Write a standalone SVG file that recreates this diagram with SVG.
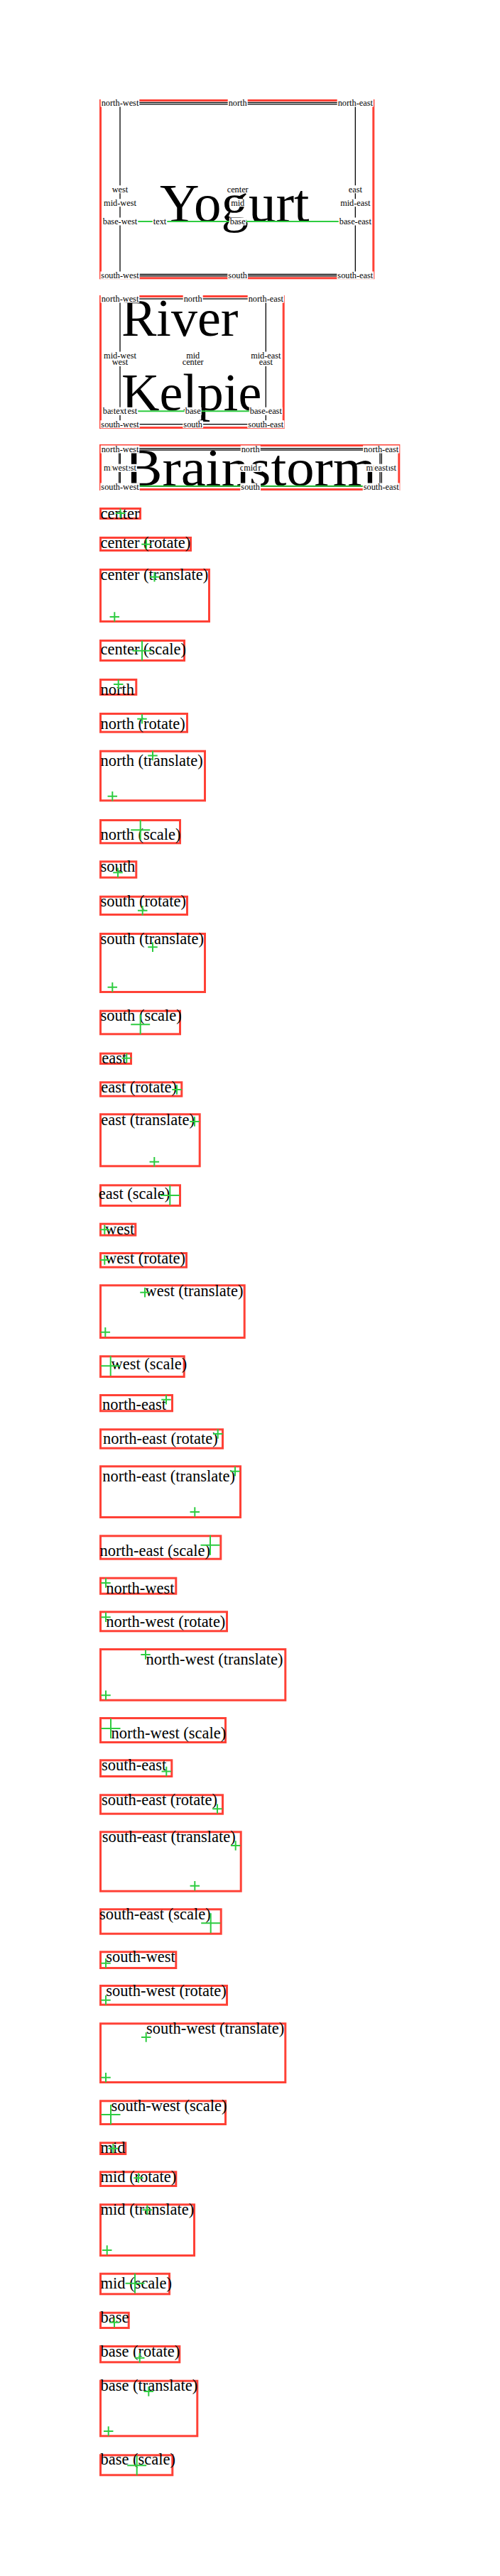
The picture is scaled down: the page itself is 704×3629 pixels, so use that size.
<svg xmlns="http://www.w3.org/2000/svg" xmlns:xlink="http://www.w3.org/1999/xlink" width="704" height="3629" viewBox="0 0 704 3629">
<style>
.bx{fill:none;stroke:#ff4136;stroke-width:3}
.fr{fill:none;stroke:#000;stroke-width:1.3}
.bl{stroke:#2ecc40;stroke-width:2;fill:none}
.t{font-family:"Liberation Serif",serif;font-size:22.5px;fill:#000}
.big{font-family:"Liberation Serif",serif;fill:#000}
.lb rect{fill:#fff}
.lb text{font-family:"Liberation Serif",serif;font-size:12.3px;fill:#000;text-anchor:middle}
.e{text-anchor:end}
</style>
<defs>
<path id="c" d="M-6.75 0h13.5M0-6.75v13.5" stroke="#2ecc40" stroke-width="2" fill="none"/>
<path id="C" d="M-13.5 0h27M0-14v28" stroke="#2ecc40" stroke-width="2" fill="none"/>
</defs>
<rect width="704" height="3629" fill="#fff"/>

<g id="yogurt">
<rect class="bx" x="141.5" y="141.5" width="384.3" height="250.3"/>
<rect class="fr" x="169" y="144.5" width="331.3" height="244.3"/>
<path class="fr" d="M169 146.8H500.3M169 386.5H500.3"/>
<text class="big" x="225" y="312" font-size="77">Yogurt</text>
<path class="bl" d="M169 312H500.3"/>
<g class="lb">
<rect x="141.7" y="139.5" width="54.6" height="11"/><text x="169" y="149">north-west</text>
<rect x="320.7" y="139.5" width="28" height="11"/><text x="334.7" y="149">north</text>
<rect x="474.7" y="139.5" width="51.2" height="11"/><text x="500.3" y="149">north-east</text>
<rect x="156.75" y="261.2" width="24.5" height="11"/><text x="169" y="270.7">west</text>
<rect x="318.7" y="261.2" width="32" height="11"/><text x="334.7" y="270.7">center</text>
<rect x="489.75" y="261.2" width="21.1" height="11"/><text x="500.3" y="270.7">east</text>
<rect x="145.1" y="280.2" width="47.8" height="11"/><text x="169" y="289.7">mid-west</text>
<rect x="324.15" y="280.2" width="21.1" height="11"/><text x="334.7" y="289.7">mid</text>
<rect x="478.1" y="280.2" width="44.4" height="11"/><text x="500.3" y="289.7">mid-east</text>
<rect x="143.75" y="306.5" width="50.5" height="11"/><text x="169" y="316">base-west</text>
<rect x="214.75" y="306.5" width="20.5" height="11"/><text x="225" y="316">text</text>
<rect x="322.75" y="306.5" width="23.9" height="11"/><text x="334.7" y="316">base</text>
<rect x="476.75" y="306.5" width="47.1" height="11"/><text x="500.3" y="316">base-east</text>
<rect x="141.35" y="382.5" width="55.3" height="11"/><text x="169" y="392">south-west</text>
<rect x="320.35" y="382.5" width="28.7" height="11"/><text x="334.7" y="392">south</text>
<rect x="474.35" y="382.5" width="51.9" height="11"/><text x="500.3" y="392">south-east</text>
</g>
</g>

<g id="river-kelpie">
<rect class="bx" x="141.5" y="417.5" width="257.7" height="185"/>
<rect class="fr" x="169" y="421" width="205.3" height="176.7" stroke-width="2"/>
<text class="big" x="171" y="473" font-size="74">River</text>
<text class="big" x="171" y="578" font-size="74">Kelpie</text>
<path class="bl" d="M169 579.3H374.3"/>
<g class="lb">
<rect x="141.7" y="415.5" width="54.6" height="11"/><text x="169" y="425">north-west</text>
<rect x="257.7" y="415.5" width="28" height="11"/><text x="271.7" y="425">north</text>
<rect x="348.7" y="415.5" width="51.2" height="11"/><text x="374.3" y="425">north-east</text>
<rect x="145.1" y="495.5" width="47.8" height="11"/><text x="169" y="505">mid-west</text>
<rect x="261.15" y="495.5" width="21.1" height="11"/><text x="271.7" y="505">mid</text>
<rect x="352.1" y="495.5" width="44.4" height="11"/><text x="374.3" y="505">mid-east</text>
<rect x="156.75" y="505.5" width="24.5" height="10.5"/><text x="169" y="514.3">west</text>
<rect x="255.7" y="505.5" width="32" height="10.5"/><text x="271.7" y="514.3">center</text>
<rect x="363.75" y="505.5" width="21.1" height="10.5"/><text x="374.3" y="514.3">east</text>
<rect x="143.75" y="573.8" width="50.5" height="11"/><text x="169" y="583.3">base-west</text>
<rect x="158.75" y="573.8" width="20.5" height="11"/><text x="169" y="583.3">text</text>
<rect x="259.75" y="573.8" width="23.9" height="11"/><text x="271.7" y="583.3">base</text>
<rect x="350.75" y="573.8" width="47.1" height="11"/><text x="374.3" y="583.3">base-east</text>
<rect x="141.35" y="592.2" width="55.3" height="11"/><text x="169" y="601.7">south-west</text>
<rect x="257.35" y="592.2" width="28.7" height="11"/><text x="271.7" y="601.7">south</text>
<rect x="348.35" y="592.2" width="51.9" height="11"/><text x="374.3" y="601.7">south-east</text>
</g>
</g>

<g id="brainstorm">
<rect class="bx" x="141.5" y="627.5" width="420.3" height="62"/>
<rect class="fr" x="167.7" y="631.7" width="369.6" height="53.3"/>
<rect class="fr" x="169.3" y="634" width="365.7" height="51"/>
<text class="big" x="176" y="684" font-size="74" textLength="354" lengthAdjust="spacingAndGlyphs">Brainstorm</text>
<path class="bl" d="M169 684.7H536.7"/>
<g class="lb">
<rect x="141.7" y="627.5" width="54.6" height="11"/><text x="169" y="637">north-west</text>
<rect x="338.7" y="627.5" width="28" height="11"/><text x="352.7" y="637">north</text>
<rect x="511.1" y="627.5" width="51.2" height="11"/><text x="536.7" y="637">north-east</text>
<rect x="145.1" y="653.8" width="47.8" height="11"/><text x="169" y="663.3">mid-west</text>
<rect x="336.7" y="653.8" width="32" height="11"/><text x="352.7" y="663.3">center</text>
<rect x="514.5" y="653.8" width="44.4" height="11"/><text x="536.7" y="663.3">mid-east</text>
<rect x="156.75" y="653.8" width="24.5" height="11"/><text x="169" y="663.3">west</text>
<rect x="342.15" y="653.8" width="21.1" height="11"/><text x="352.7" y="663.3">mid</text>
<rect x="526.15" y="653.8" width="21.1" height="11"/><text x="536.7" y="663.3">east</text>
<rect x="141.35" y="680.5" width="55.3" height="11"/><text x="169" y="690">south-west</text>
<rect x="338.35" y="680.5" width="28.7" height="11"/><text x="352.7" y="690">south</text>
<rect x="510.75" y="680.5" width="51.9" height="11"/><text x="536.7" y="690">south-east</text>
</g>
</g>

<g id="item-center"><rect class="bx" x="141.5" y="716.5" width="56" height="14"/><text class="t" x="141.5" y="730.5">center</text><use href="#c" x="169.5" y="723"/></g>
<g id="item-center-rotate"><rect class="bx" x="141.5" y="757.5" width="127" height="18"/><text class="t" x="141.5" y="771.7">center (rotate)</text><use href="#c" x="206" y="766.7"/></g>
<g id="item-center-translate"><rect class="bx" x="141.5" y="802.5" width="153" height="73"/><text class="t" x="141.5" y="816.5">center (translate)</text><use href="#c" x="217.5" y="812.7"/><use href="#c" x="161.3" y="869"/></g>
<g id="item-center-scale"><rect class="bx" x="141.5" y="902.5" width="118" height="28"/><text class="t" x="141.5" y="921.7">center (scale)</text><use href="#C" x="200" y="916.7"/></g>

<g id="item-north"><rect class="bx" x="141.5" y="957.5" width="50.3" height="21"/><text class="t" x="141.5" y="978.5">north</text><use href="#c" x="166.7" y="964"/></g>
<g id="item-north-rotate"><rect class="bx" x="141.5" y="1005.5" width="122" height="25.7"/><text class="t" x="141.5" y="1026.7">north (rotate)</text><use href="#c" x="200" y="1012.7"/></g>
<g id="item-north-translate"><rect class="bx" x="141.5" y="1058.2" width="147" height="69.6"/><text class="t" x="141.5" y="1078.5">north (translate)</text><use href="#c" x="215" y="1064.5"/><use href="#c" x="158.3" y="1121.7"/></g>
<g id="item-north-scale"><rect class="bx" x="141.5" y="1155.5" width="112" height="32.3"/><text class="t" x="141.5" y="1183.3">north (scale)</text><use href="#C" x="197.7" y="1169.3"/></g>

<g id="item-south"><rect class="bx" x="141.5" y="1213.8" width="50.3" height="22.4"/><text class="t" x="141.5" y="1228">south</text><use href="#c" x="166" y="1229.3"/></g>
<g id="item-south-rotate"><rect class="bx" x="141.5" y="1263.2" width="122" height="25.3"/><text class="t" x="141.5" y="1277.3">south (rotate)</text><use href="#c" x="200.7" y="1282.7"/></g>
<g id="item-south-translate"><rect class="bx" x="141.5" y="1315.5" width="147" height="82"/><text class="t" x="141.5" y="1330">south (translate)</text><use href="#c" x="215" y="1334.3"/><use href="#c" x="158.3" y="1390.7"/></g>
<g id="item-south-scale"><rect class="bx" x="141.5" y="1424.2" width="112" height="32.6"/><text class="t" x="141.5" y="1438.3">south (scale)</text><use href="#C" x="197.7" y="1443.3"/></g>

<g id="item-east"><rect class="bx" x="141.5" y="1484.2" width="43" height="14.3"/><text class="t e" x="178.3" y="1498.3">east</text><use href="#c" x="178.3" y="1490.7"/></g>
<g id="item-east-rotate"><rect class="bx" x="141.5" y="1524.8" width="114.3" height="19.4"/><text class="t e" x="249" y="1539">east (rotate)</text><use href="#c" x="249" y="1535"/></g>
<g id="item-east-translate"><rect class="bx" x="141.5" y="1569.8" width="139.7" height="73"/><text class="t e" x="274" y="1584.5">east (translate)</text><use href="#c" x="274" y="1580"/><use href="#c" x="217.3" y="1636.7"/></g>
<g id="item-east-scale"><rect class="bx" x="141.5" y="1669.8" width="112" height="28.7"/><text class="t e" x="239.3" y="1689.3">east (scale)</text><use href="#C" x="239.3" y="1684"/></g>

<g id="item-west"><rect class="bx" x="141.5" y="1724.2" width="49.3" height="16"/><text class="t" x="148" y="1739">west</text><use href="#c" x="147.3" y="1732.3"/></g>
<g id="item-west-rotate"><rect class="bx" x="141.5" y="1765.5" width="121" height="19.7"/><text class="t" x="148" y="1779.7">west (rotate)</text><use href="#c" x="147.3" y="1775"/></g>
<g id="item-west-translate"><rect class="bx" x="141.5" y="1810.8" width="202.7" height="73.7"/><text class="t" x="204.5" y="1826">west (translate)</text><use href="#c" x="204" y="1820.7"/><use href="#c" x="148.3" y="1876.7"/></g>
<g id="item-west-scale"><rect class="bx" x="141.5" y="1910.8" width="117.7" height="28.7"/><text class="t" x="156.5" y="1929.3">west (scale)</text><use href="#C" x="155.7" y="1924.3"/></g>

<g id="item-north-east"><rect class="bx" x="141.5" y="1965.5" width="101" height="22.3"/><text class="t e" x="234" y="1986">north-east</text><use href="#c" x="234" y="1971.7"/></g>
<g id="item-north-east-rotate"><rect class="bx" x="141.5" y="2013.8" width="172" height="26.4"/><text class="t e" x="306.7" y="2034.3">north-east (rotate)</text><use href="#c" x="306.7" y="2020"/></g>
<g id="item-north-east-translate"><rect class="bx" x="141.5" y="2065.8" width="197" height="71.7"/><text class="t e" x="331" y="2086.7">north-east (translate)</text><use href="#c" x="331" y="2072.7"/><use href="#c" x="274.3" y="2130"/></g>
<g id="item-north-east-scale"><rect class="bx" x="141.5" y="2163.8" width="169.3" height="32.4"/><text class="t e" x="296" y="2191.7">north-east (scale)</text><use href="#C" x="296" y="2176.7"/></g>

<g id="item-north-west"><rect class="bx" x="141.5" y="2223.2" width="106.3" height="22"/><text class="t" x="149.3" y="2244.5">north-west</text><use href="#c" x="149" y="2230"/></g>
<g id="item-north-west-rotate"><rect class="bx" x="141.5" y="2270.8" width="178" height="27"/><text class="t" x="149.3" y="2292">north-west (rotate)</text><use href="#c" x="149" y="2278.3"/></g>
<g id="item-north-west-translate"><rect class="bx" x="141.5" y="2323.5" width="260.3" height="71.7"/><text class="t" x="205.5" y="2344.5">north-west (translate)</text><use href="#c" x="205" y="2331"/><use href="#c" x="149" y="2388.3"/></g>
<g id="item-north-west-scale"><rect class="bx" x="141.5" y="2420.5" width="176" height="34"/><text class="t" x="156.5" y="2448.5">north-west (scale)</text><use href="#C" x="156" y="2435"/></g>

<g id="item-south-east"><rect class="bx" x="141.5" y="2479.8" width="100.3" height="22.7"/><text class="t e" x="234.3" y="2494">south-east</text><use href="#c" x="234.3" y="2495.5"/></g>
<g id="item-south-east-rotate"><rect class="bx" x="141.5" y="2528.8" width="172" height="26.4"/><text class="t e" x="306" y="2542.8">south-east (rotate)</text><use href="#c" x="306" y="2548.3"/></g>
<g id="item-south-east-translate"><rect class="bx" x="141.5" y="2580.8" width="197.7" height="83.4"/><text class="t e" x="331.7" y="2595">south-east (translate)</text><use href="#c" x="331.7" y="2600"/><use href="#c" x="274.3" y="2656.7"/></g>
<g id="item-south-east-scale"><rect class="bx" x="141.5" y="2689.8" width="169.7" height="34.4"/><text class="t e" x="296.7" y="2704">south-east (scale)</text><use href="#C" x="296.7" y="2709.3"/></g>

<g id="item-south-west"><rect class="bx" x="141.5" y="2749.8" width="106.3" height="22.7"/><text class="t" x="149.3" y="2764">south-west</text><use href="#c" x="149" y="2765.7"/></g>
<g id="item-south-west-rotate"><rect class="bx" x="141.5" y="2797.5" width="178" height="26.7"/><text class="t" x="149.3" y="2811.5">south-west (rotate)</text><use href="#c" x="149" y="2817.7"/></g>
<g id="item-south-west-translate"><rect class="bx" x="141.5" y="2850.8" width="260.3" height="82.7"/><text class="t" x="206" y="2865">south-west (translate)</text><use href="#c" x="205.7" y="2870"/><use href="#c" x="149" y="2926.7"/></g>
<g id="item-south-west-scale"><rect class="bx" x="141.5" y="2959.8" width="176" height="32.7"/><text class="t" x="156.5" y="2974">south-west (scale)</text><use href="#C" x="156" y="2979"/></g>

<g id="item-mid"><rect class="bx" x="141.5" y="3018.8" width="35.3" height="15.7"/><text class="t" x="141.5" y="3033">mid</text><use href="#c" x="159.3" y="3026.7"/></g>
<g id="item-mid-rotate"><rect class="bx" x="141.5" y="3059.8" width="106.3" height="19.7"/><text class="t" x="141.5" y="3074">mid (rotate)</text><use href="#c" x="195" y="3068.3"/></g>
<g id="item-mid-translate"><rect class="bx" x="141.5" y="3105.8" width="132" height="71.7"/><text class="t" x="141.5" y="3120">mid (translate)</text><use href="#c" x="207.3" y="3113.3"/><use href="#c" x="150.7" y="3170"/></g>
<g id="item-mid-scale"><rect class="bx" x="141.5" y="3203.2" width="97" height="28.6"/><text class="t" x="141.5" y="3224">mid (scale)</text><use href="#C" x="190" y="3216.7"/></g>

<g id="item-base"><rect class="bx" x="141.5" y="3258.2" width="39.7" height="21.3"/><text class="t" x="141.5" y="3272.2">base</text><use href="#c" x="161" y="3271.7"/></g>
<g id="item-base-rotate"><rect class="bx" x="141.5" y="3305.5" width="111.3" height="22.3"/><text class="t" x="141.5" y="3320">base (rotate)</text><use href="#c" x="196.7" y="3321.7"/></g>
<g id="item-base-translate"><rect class="bx" x="141.5" y="3354.2" width="136.3" height="77.6"/><text class="t" x="141.5" y="3367.5">base (translate)</text><use href="#c" x="209.3" y="3369"/><use href="#c" x="152.7" y="3425"/></g>
<g id="item-base-scale"><rect class="bx" x="141.5" y="3458.8" width="101.3" height="28"/><text class="t" x="141.5" y="3471.7">base (scale)</text><use href="#C" x="192.7" y="3473.3"/></g>

<g id="connectors"/>
</svg>
